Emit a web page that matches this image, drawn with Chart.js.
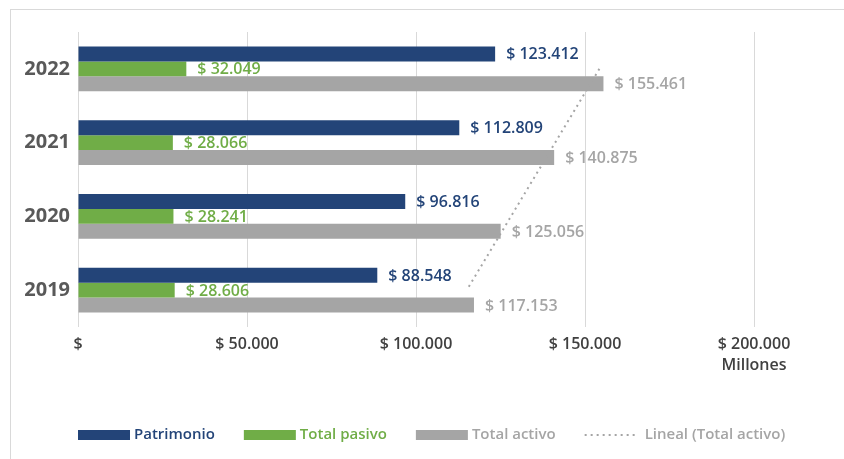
<!DOCTYPE html>
<html>
<head>
<meta charset="utf-8">
<script src="https://cdn.jsdelivr.net/npm/chart.js@4.4.1/dist/chart.umd.min.js"></script>
<style>
  html, body { margin: 0; padding: 0; background: #fff; }
  #wrap { position: relative; width: 844px; height: 459px; overflow: hidden; }
  #marco { position: absolute; left: 10px; top: 9px; width: 900px; height: 500px; border-top: 1px solid #d9d9d9; border-left: 1px solid #d9d9d9; }
  canvas { position: absolute; left: 0; top: 0; }
</style>
</head>
<body>
<div id="wrap">
  <div id="marco"></div>
  <canvas id="chart" width="844" height="459"></canvas>
</div>
<script>
// datos (millones de pesos)
const anios = ["2022", "2021", "2020", "2019"];
const patrimonio = [123412, 112809, 96816, 88548];
const totalPasivo = [32049, 28066, 28241, 28606];
const totalActivo = [155461, 140875, 125056, 117153];
const linealActivo = [154250, 141170, 128100, 115020];
const ticksX = [0, 50000, 100000, 150000, 200000];
const unidad = "Millones";

const AZUL = "#234478";
const VERDE = "#70AD47";
const GRIS = "#A5A5A5";
const FUENTE = "'Open Sans', sans-serif";

function pesos(v) {
  if (v === 0) return "$";
  return "$ " + String(Math.round(v)).replace(/\B(?=(\d{3})+(?!\d))/g, ".");
}

// etiquetas al final de cada barra
const etiquetas = {
  id: "etiquetas",
  afterDatasetsDraw(chart) {
    const ctx = chart.ctx;
    ctx.save();
    ctx.font = "600 16px " + FUENTE;
    ctx.textBaseline = "middle";
    ctx.textAlign = "left";
    chart.data.datasets.forEach((ds, i) => {
      if (ds.type === "line") return;
      ctx.fillStyle = ds.labelColor;
      chart.getDatasetMeta(i).data.forEach((bar, j) => {
        ctx.fillText(pesos(ds.data[j]), bar.x + 11, bar.y + 1);
      });
    });
    ctx.restore();
  }
};

// leyenda abajo
const leyenda = {
  id: "leyenda",
  afterDraw(chart) {
    const ctx = chart.ctx;
    const y = 435;
    let x = chart.chartArea.left;
    ctx.save();
    ctx.font = "600 15px " + FUENTE;
    ctx.textBaseline = "middle";
    ctx.textAlign = "left";
    chart.data.datasets.forEach(ds => {
      if (ds.type === "line") {
        ctx.strokeStyle = ds.borderColor;
        ctx.lineWidth = 2;
        ctx.setLineDash(ds.borderDash);
        ctx.beginPath();
        ctx.moveTo(x, y);
        ctx.lineTo(x + 52, y);
        ctx.stroke();
        ctx.setLineDash([]);
      } else {
        ctx.fillStyle = ds.backgroundColor;
        ctx.fillRect(x, y - 5, 52, 10);
      }
      x += ds.type === "line" ? 60 : 56;
      ctx.fillStyle = ds.labelColor;
      ctx.fillText(ds.label, x, y);
      x += ctx.measureText(ds.label).width + 29;
    });
    ctx.restore();
  }
};

new Chart(document.getElementById("chart"), {
  type: "bar",
  data: {
    labels: anios,
    datasets: [
      { label: "Patrimonio", data: patrimonio, backgroundColor: AZUL, labelColor: AZUL,
        categoryPercentage: 0.61, barPercentage: 1, order: 1 },
      { label: "Total pasivo", data: totalPasivo, backgroundColor: VERDE, labelColor: VERDE,
        categoryPercentage: 0.61, barPercentage: 1, order: 1 },
      { label: "Total activo", data: totalActivo, backgroundColor: GRIS, labelColor: GRIS,
        categoryPercentage: 0.61, barPercentage: 1, order: 1 },
      { type: "line", indexAxis: "y", label: "Lineal (Total activo)", data: linealActivo,
        borderColor: GRIS, labelColor: GRIS, borderWidth: 2, borderDash: [2, 4],
        pointRadius: 0, fill: false, tension: 0, order: 0 }
    ]
  },
  options: {
    indexAxis: "y",
    responsive: false,
    animation: false,
    layout: { padding: { top: 32, right: 90, left: 0, bottom: 0 } },
    plugins: { legend: { display: false }, tooltip: { enabled: false } },
    scales: {
      x: {
        min: 0,
        max: 200000,
        afterBuildTicks: s => { s.ticks = ticksX.map(v => ({ value: v })); },
        afterFit: s => { s.height = 132; },
        grid: { color: "#d9d9d9", lineWidth: 1, drawTicks: false },
        border: { display: false },
        ticks: {
          padding: 7,
          color: "#404040",
          font: { family: FUENTE, size: 16, weight: 600, lineHeight: 1.3 },
          callback: v => v === ticksX[ticksX.length - 1] ? [pesos(v), unidad] : pesos(v)
        }
      },
      y: {
        afterFit: s => { s.width = 78; },
        grid: { display: false, drawTicks: false },
        border: { display: false },
        ticks: { padding: 8, color: "#595959", font: { family: FUENTE, size: 20, weight: 700 } }
      }
    }
  },
  plugins: [etiquetas, leyenda]
});
</script>
</body>
</html>
